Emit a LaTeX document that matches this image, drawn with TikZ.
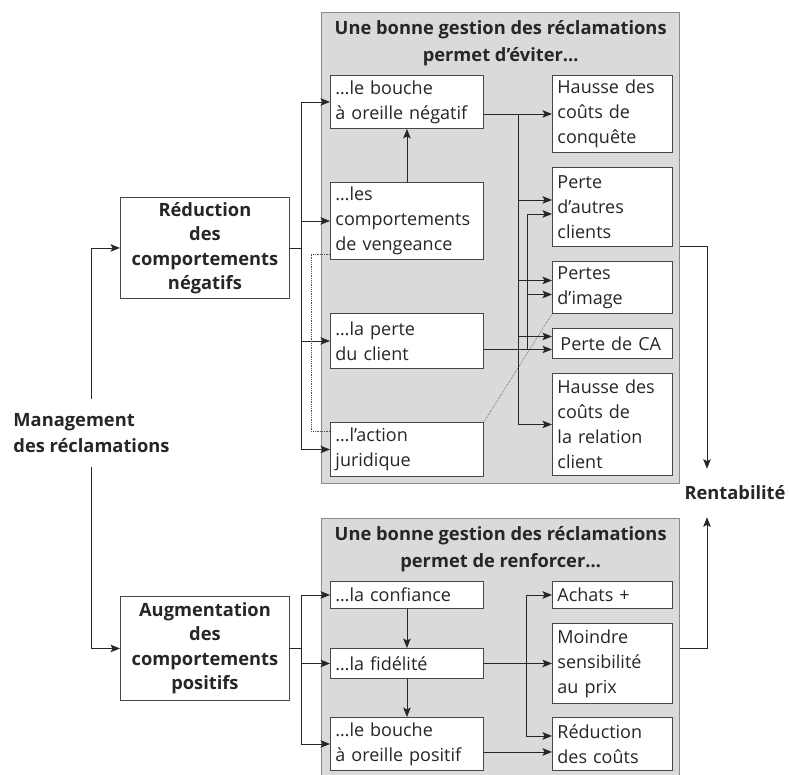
\documentclass[tikz,border=0pt]{standalone}
\usepackage{fontspec}
\setmainfont{Open Sans}
\usetikzlibrary{positioning,arrows.meta,calc}
\definecolor{panelfill}{HTML}{DADADA}
\definecolor{paneldraw}{HTML}{8A8A8A}
\definecolor{ink}{HTML}{262626}

\tikzset{
  item/.style={draw=ink!85, fill=white, line width=0.9pt, anchor=north west, align=left,
    inner xsep=5pt, inner ysep=0pt, text=ink, font=\fontsize{18}{25}\selectfont},
  litem/.style={item, text width=143pt},
  ritem/.style={item, text width=110pt},
  actor/.style={item, align=center, text width=161pt, inner xsep=4pt,
    font=\bfseries\fontsize{18.3}{24.5}\selectfont},
  panel/.style={draw=paneldraw, fill=panelfill, line width=1.3pt, anchor=north west, inner sep=0pt},
  ptitle/.style={anchor=north, align=center, text=ink, inner xsep=4pt, inner ysep=8pt,
    font=\bfseries\fontsize{18.3}{27}\selectfont},
  link/.style={->, ink, line width=0.9pt},
}

\begin{document}
\begin{tikzpicture}[x=1pt, y=-1pt, >={Stealth[length=9.5pt,width=7.5pt,inset=2pt]}]
  \useasboundingbox (0,0) rectangle (789,774);

  \node[panel, minimum width=358pt, minimum height=471pt] (top) at (321,12) {};
  \node[ptitle] (toptitle) at (top.north) {Une bonne gestion des réclamations\\permet d’éviter…};
  \node[litem, minimum height=53pt] (a1) at (330,75) {…le bouche\\à oreille négatif};
  \node[litem, minimum height=77pt] (a2) at (330,182) {…les\\comportements\\de vengeance};
  \node[litem, minimum height=55pt] (a3) at (330,313) {…la perte\\du client};
  \node[litem, minimum height=54pt] (a4) at (330,422) {…l’action\\juridique};
  \node[ritem, minimum height=77pt] (b1) at (552,75) {Hausse des\\coûts de\\conquête};
  \node[ritem, minimum height=79pt] (b2) at (552,167) {Perte\\d’autres\\clients};
  \node[ritem, minimum height=52pt] (b3) at (552,261) {Pertes\\d’image};
  \node[ritem, minimum height=30pt] (b4) at (552,328) {\,Perte de CA};
  \node[ritem, minimum height=102pt] (b5) at (552,373) {Hausse des\\coûts de\\la relation\\client};

  \node[panel, minimum width=358pt, minimum height=262pt] (bot) at (321,518) {};
  \node[ptitle] (bottitle) at (bot.north) {Une bonne gestion des réclamations\\permet de renforcer…};
  \node[litem, minimum height=27pt] (c1) at (330,581) {…la confiance};
  \node[litem, minimum height=30pt] (c2) at (330,648) {…la fidélité};
  \node[litem, minimum height=53pt] (c3) at (330,717) {…le bouche\\à oreille positif};
  \node[ritem, minimum height=27pt] (d1) at (552,581) {Achats +};
  \node[ritem, minimum height=80pt] (d2) at (552,623) {Moindre\\sensibilité\\au prix};
  \node[ritem, minimum height=53pt] (d3) at (552,717) {Réduction\\des coûts};

  \node[actor, minimum height=101pt] (reduc) at (120,197) {Réduction\\des\\comportements\\négatifs};
  \node[actor, minimum height=104pt] (augm) at (120,596) {Augmentation\\des\\comportements\\positifs};
  \node[align=left, text=ink, inner xsep=0pt, inner ysep=14pt,
    font=\bfseries\fontsize{18.3}{26}\selectfont] (mgmt) at (91.5,433) {Management\\des réclamations};
  \node[text=ink, inner ysep=17pt, font=\bfseries\fontsize{18.3}{25}\selectfont] (rent) at (735,493) {Rentabilité};

  \draw[link] (mgmt.north) |- (reduc.west);
  \draw[link] (mgmt.south) |- (augm.west);

  \foreach \t in {a1,a2,a3,a4}
    \draw[link] (reduc.east) -- ++(12,0) |- (\t.west);
  \draw[densely dotted, ink!80, line width=0.8pt] ([yshift=6pt]a2.south west) -- ++(-19,0) |- ([yshift=-9pt]a4.north west);
  \draw[densely dotted, ink!70, line width=0.7pt] (a4.north east) -- (b3.south west);
  \draw[link] (a2.north) -- (a1.south);

  \coordinate (busa) at ($(a1.east)!0.5!(b1.west)$);
  \coordinate (busb) at ([xshift=9pt]busa);
  \coordinate (calo) at ([yshift=-6pt]b4.west);
  \draw[link] (a1.east |- b1.west) -- (b1.west);
  \foreach \t/\s in {b2/7,b3/7,b4/7,b5/0}
    \draw[link] (busa |- b1.west) |- ([yshift=\s pt]\t.west);
  \draw[link] (a3.east |- calo) -- (calo);
  \foreach \t in {b2,b3}
    \draw[link] (busb |- calo) |- ([yshift=-7pt]\t.west);

  \draw[link] (top.east |- b2.south) -| ([xshift=-28pt]rent.north);
  \draw[link] (bot.east |- augm.east) -| ([xshift=-28pt]rent.south);

  \foreach \t in {c1,c2,c3}
    \draw[link] (augm.east) -- ++(12,0) |- (\t.west);
  \draw[link] (c1.south) -- (c2.north);
  \draw[link] (c2.south) -- (c3.north);
  \draw[link] (c2.east) -- (d2.west);
  \coordinate (busc) at ($(c2.east)!0.5!(d2.west)+(8,0)$);
  \coordinate (dlo) at ([yshift=-8pt]d3.west);
  \draw[link] (busc) |- (d1.west);
  \draw[link] (busc) |- ([yshift=8pt]d3.west);
  \draw[link] (c3.east |- dlo) -- (dlo);
\end{tikzpicture}
\end{document}
